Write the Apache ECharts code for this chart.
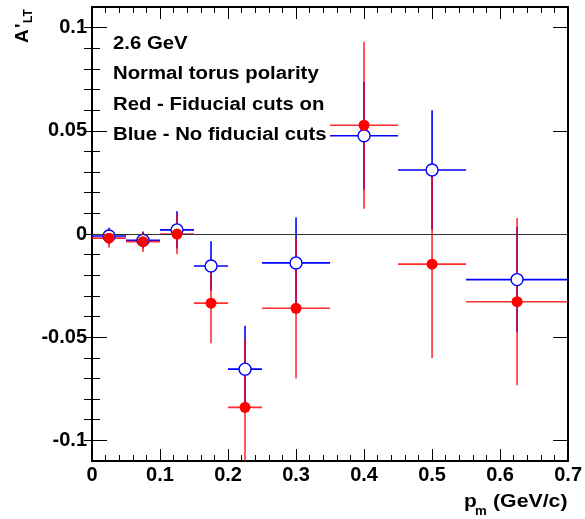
<!DOCTYPE html>
<html>
<head>
<meta charset="utf-8">
<script src="https://cdn.jsdelivr.net/npm/echarts@6/dist/echarts.min.js"></script>
<style>
html,body{margin:0;padding:0;background:#fff;}
#chart{width:585px;height:519px;}
</style>
</head>
<body>
<div id="chart"></div>
<script>
// ---- data ----
const xCenters    = [0.025, 0.075, 0.125, 0.175, 0.225, 0.3, 0.4, 0.5, 0.625];
const xHalfWidths = [0.025, 0.025, 0.025, 0.025, 0.025, 0.05, 0.05, 0.05, 0.075];
const blueY   = [-0.001, -0.003, 0.002, -0.0155, -0.0655, -0.014, 0.0476, 0.031, -0.0221];
const blueErr = [0.004, 0.004, 0.009, 0.012, 0.021, 0.022, 0.026, 0.029, 0.0255];
const redY    = [-0.002, -0.0037, 0.0, -0.0335, -0.084, -0.036, 0.0527, -0.0146, -0.0328];
const redErr  = [0.0045, 0.005, 0.0097, 0.0195, 0.033, 0.034, 0.0405, 0.0455, 0.0405];
const yTickLabels = [-0.1, -0.05, 0, 0.05, 0.1];
const textLines = ['2.6 GeV', 'Normal torus polarity', 'Red - Fiducial cuts on', 'Blue - No fiducial cuts'];

const FONT = 'Liberation Sans, Arial, Helvetica, sans-serif';
const yMinorTicks = [];
for (let i = -10; i <= 10; i++) yMinorTicks.push(i / 100);

function makeErrData(ys, errs) {
  return xCenters.map((x, i) => [x, ys[i], xHalfWidths[i], errs[i]]);
}
function errRenderer(color, opacity) {
  return function (params, api) {
    const x = api.value(0), y = api.value(1), xe = api.value(2), ye = api.value(3);
    const a = api.coord([x - xe, y]), b = api.coord([x + xe, y]);
    const c = api.coord([x, y - ye]), d = api.coord([x, y + ye]);
    const st = { stroke: color, lineWidth: 1.6, opacity: opacity };
    return {
      type: 'group',
      children: [
        { type: 'line', shape: { x1: a[0], y1: a[1], x2: b[0], y2: b[1] }, style: st },
        { type: 'line', shape: { x1: c[0], y1: c[1], x2: d[0], y2: d[1] }, style: st }
      ]
    };
  };
}

const chart = echarts.init(document.getElementById('chart'), null, { renderer: 'canvas' });

const commonX = {
  type: 'value', min: 0, max: 0.7, interval: 0.1,
  splitLine: { show: false },
  axisLine: { show: true, onZero: false, lineStyle: { color: '#000', width: 2 } },
  axisTick: { show: true, inside: true, length: 12, lineStyle: { color: '#000', width: 1 } },
  minorTick: { show: true, splitNumber: 5, length: 6, lineStyle: { color: '#000', width: 1 } }
};

const option = {
  animation: false,
  backgroundColor: '#fff',
  grid: { left: 92, right: 14, top: 7, bottom: 58, containLabel: false },
  xAxis: [
    Object.assign({}, commonX, {
      position: 'bottom',
      axisLabel: {
        show: true, margin: 4, color: '#000', fontFamily: FONT, fontWeight: 'bold', fontSize: 20,
        formatter: v => String(+v.toFixed(2))
      }
    }),
    Object.assign({}, commonX, { position: 'top', axisLabel: { show: false } })
  ],
  yAxis: [
    {
      type: 'value', min: -0.11, max: 0.11, position: 'left',
      splitLine: { show: false },
      axisLine: { show: true, onZero: false, lineStyle: { color: '#000', width: 2 } },
      axisTick: { show: true, inside: true, length: 15, customValues: yTickLabels, lineStyle: { color: '#000', width: 1 } },
      axisLabel: {
        show: true, margin: 5, customValues: yTickLabels, color: '#000', fontFamily: FONT, fontWeight: 'bold', fontSize: 20,
        formatter: v => String(+(+v).toFixed(3))
      }
    },
    {
      type: 'value', min: -0.11, max: 0.11, position: 'left',
      splitLine: { show: false }, axisLine: { show: false },
      axisTick: { show: true, inside: true, length: 8, customValues: yMinorTicks, lineStyle: { color: '#000', width: 1 } },
      axisLabel: { show: false }
    },
    {
      type: 'value', min: -0.11, max: 0.11, position: 'right',
      splitLine: { show: false },
      axisLine: { show: true, onZero: false, lineStyle: { color: '#000', width: 2 } },
      axisTick: { show: true, inside: true, length: 15, customValues: yTickLabels, lineStyle: { color: '#000', width: 1 } },
      axisLabel: { show: false }
    },
    {
      type: 'value', min: -0.11, max: 0.11, position: 'right',
      splitLine: { show: false }, axisLine: { show: false },
      axisTick: { show: true, inside: true, length: 8, customValues: yMinorTicks, lineStyle: { color: '#000', width: 1 } },
      axisLabel: { show: false }
    }
  ],
  series: [
    {
      type: 'custom', name: 'blueErr', xAxisIndex: 0, yAxisIndex: 0, clip: true, z: 2,
      renderItem: errRenderer('#0000ff', 1),
      data: makeErrData(blueY, blueErr),
      markLine: {
        silent: true, symbol: 'none', label: { show: false },
        lineStyle: { color: '#333', width: 1.2, type: 'solid' },
        data: [{ yAxis: 0 }]
      }
    },
    {
      type: 'custom', name: 'redErr', xAxisIndex: 0, yAxisIndex: 0, clip: true, z: 3,
      renderItem: errRenderer('#ff0000', 0.82),
      data: makeErrData(redY, redErr)
    },
    {
      type: 'scatter', name: 'No fiducial cuts', xAxisIndex: 0, yAxisIndex: 0, z: 4,
      symbol: 'circle', symbolSize: 12,
      itemStyle: { color: '#fff', borderColor: '#0000ff', borderWidth: 1.4, opacity: 1 },
      data: xCenters.map((x, i) => [x, blueY[i]])
    },
    {
      type: 'scatter', name: 'Fiducial cuts on', xAxisIndex: 0, yAxisIndex: 0, z: 5,
      symbol: 'circle', symbolSize: 11,
      itemStyle: { color: '#ff0000', opacity: 1 },
      data: xCenters.map((x, i) => [x, redY[i]])
    }
  ],
  graphic: [
    // y axis title A'_LT (rotated)
    {
      type: 'group', x: 28, y: 43, rotation: Math.PI / 2,
      children: [
        { type: 'text', x: 0, y: 4, style: { text: 'A', font: 'bold 19px ' + FONT, fill: '#000', align: 'left', verticalAlign: 'bottom' } },
        { type: 'text', x: 15, y: 4, style: { text: "'", font: 'bold 19px ' + FONT, fill: '#000', align: 'left', verticalAlign: 'bottom' } },
        { type: 'text', x: 20, y: 6.5, style: { text: 'LT', font: 'bold 12px ' + FONT, fill: '#000', align: 'left', verticalAlign: 'bottom' } }
      ]
    },
    // x axis title p_m (GeV/c)
    { type: 'text', x: 464, y: 511, scaleX: 1.1, style: { text: 'p', font: 'bold 19px ' + FONT, fill: '#000', align: 'left', verticalAlign: 'bottom' } },
    { type: 'text', x: 475, y: 518, scaleX: 1.1, style: { text: 'm', font: 'bold 12px ' + FONT, fill: '#000', align: 'left', verticalAlign: 'bottom' } },
    { type: 'text', x: 493, y: 511, scaleX: 1.12, style: { text: '(GeV/c)', font: 'bold 19px ' + FONT, fill: '#000', align: 'left', verticalAlign: 'bottom' } }
  ].concat(textLines.map((t, i) => ({
    type: 'text', x: 113, y: 53 + i * 30.3, scaleX: 1.13,
    style: { text: t, font: 'bold 18px ' + FONT, fill: '#000', align: 'left', verticalAlign: 'bottom' }
  })))
};

chart.setOption(option);
</script>
</body>
</html>
